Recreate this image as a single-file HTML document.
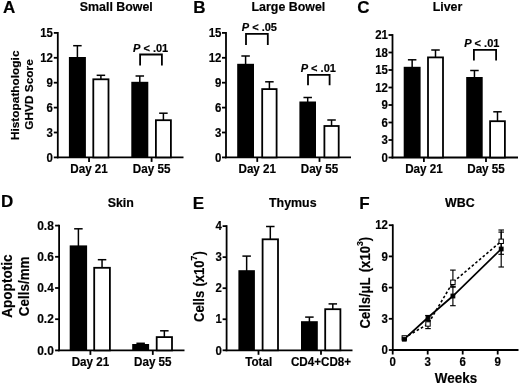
<!DOCTYPE html>
<html><head><meta charset="utf-8"><style>
html,body{margin:0;padding:0;background:#fff;}
svg{display:block;will-change:transform;}
text{font-family:"Liberation Sans",sans-serif;font-weight:bold;fill:#000;stroke:#000;stroke-width:0.18px;}
</style></head><body>
<svg width="520" height="385" viewBox="0 0 520 385" stroke="#000" stroke-linecap="butt">
<rect x="0" y="0" width="520" height="385" fill="#fff" stroke="none"/>
<g stroke="none">
</g>
<text x="9.1" y="13.3" font-size="17" text-anchor="middle">A</text>
<text x="116.3" y="11.0" font-size="12.4" text-anchor="middle">Small Bowel</text>
<line x1="57.8" y1="32" x2="57.8" y2="158.3" stroke-width="1.8"/>
<line x1="56.9" y1="157.4" x2="183.5" y2="157.4" stroke-width="1.8"/>
<line x1="53.8" y1="157.4" x2="57.8" y2="157.4" stroke-width="1.8"/>
<text transform="translate(53,161.6) scale(0.91,1)" font-size="12.6" text-anchor="end">0</text>
<line x1="53.8" y1="132.5" x2="57.8" y2="132.5" stroke-width="1.8"/>
<text transform="translate(53,136.7) scale(0.91,1)" font-size="12.6" text-anchor="end">3</text>
<line x1="53.8" y1="107.6" x2="57.8" y2="107.6" stroke-width="1.8"/>
<text transform="translate(53,111.8) scale(0.91,1)" font-size="12.6" text-anchor="end">6</text>
<line x1="53.8" y1="82.7" x2="57.8" y2="82.7" stroke-width="1.8"/>
<text transform="translate(53,86.9) scale(0.91,1)" font-size="12.6" text-anchor="end">9</text>
<line x1="53.8" y1="57.8" x2="57.8" y2="57.8" stroke-width="1.8"/>
<text transform="translate(53,62) scale(0.91,1)" font-size="12.6" text-anchor="end">12</text>
<line x1="53.8" y1="32.9" x2="57.8" y2="32.9" stroke-width="1.8"/>
<text transform="translate(53,37.1) scale(0.91,1)" font-size="12.6" text-anchor="end">15</text>
<line x1="89.05" y1="157.4" x2="89.05" y2="161.9" stroke-width="1.8"/>
<line x1="151.6" y1="157.4" x2="151.6" y2="161.9" stroke-width="1.8"/>
<line x1="77.4" y1="45.7" x2="77.4" y2="58.0" stroke-width="1.5"/>
<line x1="73.15" y1="45.7" x2="81.65" y2="45.7" stroke-width="1.5"/>
<rect x="68.9" y="57.0" width="17.0" height="100.4" fill="#000" stroke="none"/>
<line x1="100.9" y1="75.3" x2="100.9" y2="79.4" stroke-width="1.5"/>
<line x1="96.65" y1="75.3" x2="105.15" y2="75.3" stroke-width="1.5"/>
<rect x="93.3" y="79.3" width="15.2" height="78.1" fill="#fff" stroke="#000" stroke-width="1.8"/>
<line x1="139.8" y1="76" x2="139.8" y2="82.8" stroke-width="1.5"/>
<line x1="135.55" y1="76" x2="144.05" y2="76" stroke-width="1.5"/>
<rect x="131.3" y="81.8" width="17.0" height="75.6" fill="#000" stroke="none"/>
<line x1="163.4" y1="113.2" x2="163.4" y2="120.3" stroke-width="1.5"/>
<line x1="159.15" y1="113.2" x2="167.65" y2="113.2" stroke-width="1.5"/>
<rect x="155.9" y="120.2" width="15" height="37.2" fill="#fff" stroke="#000" stroke-width="1.8"/>
<polyline points="140.1,65.4 140.1,54.5 161.9,54.5 161.9,65.4" fill="none" stroke-width="1.8"/>
<text x="150.6" y="51.9" font-size="11.0" text-anchor="middle"><tspan font-style="italic">P</tspan> &lt; .01</text>
<text transform="translate(89.05,173) scale(0.94,1)" font-size="12.4" text-anchor="middle">Day 21</text>
<text transform="translate(151.6,173) scale(0.94,1)" font-size="12.4" text-anchor="middle">Day 55</text>
<text transform="translate(18.75,95.3) rotate(-90) scale(1.06,1)" x="0" y="0" font-size="11.2" text-anchor="middle">Histopathologic</text>
<text transform="translate(33.05,94.5) rotate(-90) scale(1.06,1)" x="0" y="0" font-size="11.2" text-anchor="middle">GHVD Score</text>
<text x="199.4" y="13.3" font-size="17" text-anchor="middle">B</text>
<text x="288.4" y="11.0" font-size="12.4" text-anchor="middle">Large Bowel</text>
<line x1="226" y1="32" x2="226" y2="158.3" stroke-width="1.8"/>
<line x1="225.1" y1="157.4" x2="351" y2="157.4" stroke-width="1.8"/>
<line x1="222" y1="157.4" x2="226" y2="157.4" stroke-width="1.8"/>
<text transform="translate(221.5,161.6) scale(0.91,1)" font-size="12.6" text-anchor="end">0</text>
<line x1="222" y1="132.5" x2="226" y2="132.5" stroke-width="1.8"/>
<text transform="translate(221.5,136.7) scale(0.91,1)" font-size="12.6" text-anchor="end">3</text>
<line x1="222" y1="107.6" x2="226" y2="107.6" stroke-width="1.8"/>
<text transform="translate(221.5,111.8) scale(0.91,1)" font-size="12.6" text-anchor="end">6</text>
<line x1="222" y1="82.7" x2="226" y2="82.7" stroke-width="1.8"/>
<text transform="translate(221.5,86.9) scale(0.91,1)" font-size="12.6" text-anchor="end">9</text>
<line x1="222" y1="57.8" x2="226" y2="57.8" stroke-width="1.8"/>
<text transform="translate(221.5,62) scale(0.91,1)" font-size="12.6" text-anchor="end">12</text>
<line x1="222" y1="32.9" x2="226" y2="32.9" stroke-width="1.8"/>
<text transform="translate(221.5,37.1) scale(0.91,1)" font-size="12.6" text-anchor="end">15</text>
<line x1="257.25" y1="157.4" x2="257.25" y2="161.9" stroke-width="1.8"/>
<line x1="319.5" y1="157.4" x2="319.5" y2="161.9" stroke-width="1.8"/>
<line x1="245.6" y1="56" x2="245.6" y2="64.8" stroke-width="1.5"/>
<line x1="241.35" y1="56" x2="249.85" y2="56" stroke-width="1.5"/>
<rect x="237.2" y="63.8" width="16.8" height="93.6" fill="#000" stroke="none"/>
<line x1="269.4" y1="81.8" x2="269.4" y2="89.2" stroke-width="1.5"/>
<line x1="265.15" y1="81.8" x2="273.65" y2="81.8" stroke-width="1.5"/>
<rect x="262.2" y="89.1" width="14.4" height="68.3" fill="#fff" stroke="#000" stroke-width="1.8"/>
<line x1="307.7" y1="97.5" x2="307.7" y2="102.5" stroke-width="1.5"/>
<line x1="303.45" y1="97.5" x2="311.95" y2="97.5" stroke-width="1.5"/>
<rect x="299.4" y="101.5" width="16.6" height="55.9" fill="#000" stroke="none"/>
<line x1="331.55" y1="120" x2="331.55" y2="126.1" stroke-width="1.5"/>
<line x1="327.3" y1="120" x2="335.8" y2="120" stroke-width="1.5"/>
<rect x="324.4" y="126.0" width="14.3" height="31.4" fill="#fff" stroke="#000" stroke-width="1.8"/>
<polyline points="246.0,44.9 246.0,33.8 267.8,33.8 267.8,44.9" fill="none" stroke-width="1.8"/>
<text x="259.4" y="30.9" font-size="11.0" text-anchor="middle"><tspan font-style="italic">P</tspan> &lt; .05</text>
<polyline points="308.0,85.2 308.0,74.8 329.6,74.8 329.6,85.2" fill="none" stroke-width="1.8"/>
<text x="318.3" y="72" font-size="11.0" text-anchor="middle"><tspan font-style="italic">P</tspan> &lt; .01</text>
<text transform="translate(257.25,173) scale(0.94,1)" font-size="12.4" text-anchor="middle">Day 21</text>
<text transform="translate(319.5,173) scale(0.94,1)" font-size="12.4" text-anchor="middle">Day 55</text>
<text x="363.5" y="13.2" font-size="17" text-anchor="middle">C</text>
<text x="447.5" y="11.0" font-size="12.4" text-anchor="middle">Liver</text>
<line x1="392.5" y1="34.1" x2="392.5" y2="158.4" stroke-width="1.8"/>
<line x1="391.6" y1="157.5" x2="518" y2="157.5" stroke-width="1.8"/>
<line x1="388.5" y1="157.5" x2="392.5" y2="157.5" stroke-width="1.8"/>
<text transform="translate(388,161.7) scale(0.91,1)" font-size="12.6" text-anchor="end">0</text>
<line x1="388.5" y1="140.0" x2="392.5" y2="140.0" stroke-width="1.8"/>
<text transform="translate(388,144.2) scale(0.91,1)" font-size="12.6" text-anchor="end">3</text>
<line x1="388.5" y1="122.5" x2="392.5" y2="122.5" stroke-width="1.8"/>
<text transform="translate(388,126.7) scale(0.91,1)" font-size="12.6" text-anchor="end">6</text>
<line x1="388.5" y1="105.0" x2="392.5" y2="105.0" stroke-width="1.8"/>
<text transform="translate(388,109.2) scale(0.91,1)" font-size="12.6" text-anchor="end">9</text>
<line x1="388.5" y1="87.5" x2="392.5" y2="87.5" stroke-width="1.8"/>
<text transform="translate(388,91.7) scale(0.91,1)" font-size="12.6" text-anchor="end">12</text>
<line x1="388.5" y1="70.0" x2="392.5" y2="70.0" stroke-width="1.8"/>
<text transform="translate(388,74.2) scale(0.91,1)" font-size="12.6" text-anchor="end">15</text>
<line x1="388.5" y1="52.5" x2="392.5" y2="52.5" stroke-width="1.8"/>
<text transform="translate(388,56.7) scale(0.91,1)" font-size="12.6" text-anchor="end">18</text>
<line x1="388.5" y1="35.0" x2="392.5" y2="35.0" stroke-width="1.8"/>
<text transform="translate(388,39.2) scale(0.91,1)" font-size="12.6" text-anchor="end">21</text>
<line x1="423.9" y1="157.5" x2="423.9" y2="162.0" stroke-width="1.8"/>
<line x1="486" y1="157.5" x2="486" y2="162.0" stroke-width="1.8"/>
<line x1="412.15" y1="59.8" x2="412.15" y2="67.8" stroke-width="1.5"/>
<line x1="407.9" y1="59.8" x2="416.4" y2="59.8" stroke-width="1.5"/>
<rect x="403.7" y="66.8" width="16.9" height="90.7" fill="#000" stroke="none"/>
<line x1="435.5" y1="50" x2="435.5" y2="57.5" stroke-width="1.5"/>
<line x1="431.25" y1="50" x2="439.75" y2="50" stroke-width="1.5"/>
<rect x="428.0" y="57.4" width="15" height="100.1" fill="#fff" stroke="#000" stroke-width="1.8"/>
<line x1="474.45" y1="70.5" x2="474.45" y2="78" stroke-width="1.5"/>
<line x1="470.2" y1="70.5" x2="478.7" y2="70.5" stroke-width="1.5"/>
<rect x="466.2" y="77" width="16.5" height="80.5" fill="#000" stroke="none"/>
<line x1="497.5" y1="111.8" x2="497.5" y2="121.3" stroke-width="1.5"/>
<line x1="493.25" y1="111.8" x2="501.75" y2="111.8" stroke-width="1.5"/>
<rect x="490.1" y="121.2" width="14.8" height="36.3" fill="#fff" stroke="#000" stroke-width="1.8"/>
<polyline points="473.9,60.6 473.9,49.9 496.1,49.9 496.1,60.6" fill="none" stroke-width="1.8"/>
<text x="481.8" y="47.1" font-size="11.0" text-anchor="middle"><tspan font-style="italic">P</tspan> &lt; .01</text>
<text transform="translate(423.9,173) scale(0.94,1)" font-size="12.4" text-anchor="middle">Day 21</text>
<text transform="translate(486,173) scale(0.94,1)" font-size="12.4" text-anchor="middle">Day 55</text>
<text x="7.1" y="207.4" font-size="17" text-anchor="middle">D</text>
<text x="120.8" y="206.8" font-size="12.4" text-anchor="middle">Skin</text>
<line x1="59.1" y1="224.7" x2="59.1" y2="351.3" stroke-width="1.8"/>
<line x1="58.2" y1="350.4" x2="184.5" y2="350.4" stroke-width="1.8"/>
<line x1="55.1" y1="350.4" x2="59.1" y2="350.4" stroke-width="1.8"/>
<text transform="translate(53.8,354.6) scale(0.95,1)" font-size="12.6" text-anchor="end">0.0</text>
<line x1="55.1" y1="319.2" x2="59.1" y2="319.2" stroke-width="1.8"/>
<text transform="translate(53.8,323.4) scale(0.95,1)" font-size="12.6" text-anchor="end">0.2</text>
<line x1="55.1" y1="288.0" x2="59.1" y2="288.0" stroke-width="1.8"/>
<text transform="translate(53.8,292.2) scale(0.95,1)" font-size="12.6" text-anchor="end">0.4</text>
<line x1="55.1" y1="256.8" x2="59.1" y2="256.8" stroke-width="1.8"/>
<text transform="translate(53.8,261) scale(0.95,1)" font-size="12.6" text-anchor="end">0.6</text>
<line x1="55.1" y1="225.6" x2="59.1" y2="225.6" stroke-width="1.8"/>
<text transform="translate(53.8,229.8) scale(0.95,1)" font-size="12.6" text-anchor="end">0.8</text>
<line x1="90.4" y1="350.4" x2="90.4" y2="354.9" stroke-width="1.8"/>
<line x1="152.8" y1="350.4" x2="152.8" y2="354.9" stroke-width="1.8"/>
<line x1="78.4" y1="228.8" x2="78.4" y2="246.4" stroke-width="1.5"/>
<line x1="74.15" y1="228.8" x2="82.65" y2="228.8" stroke-width="1.5"/>
<rect x="69.7" y="245.4" width="17.4" height="105" fill="#000" stroke="none"/>
<line x1="102.05" y1="259.7" x2="102.05" y2="267.9" stroke-width="1.5"/>
<line x1="97.8" y1="259.7" x2="106.3" y2="259.7" stroke-width="1.5"/>
<rect x="94.2" y="267.8" width="15.7" height="82.6" fill="#fff" stroke="#000" stroke-width="1.8"/>
<line x1="140.65" y1="343.3" x2="140.65" y2="345" stroke-width="1.5"/>
<line x1="136.4" y1="343.3" x2="144.9" y2="343.3" stroke-width="1.5"/>
<rect x="132.2" y="344" width="16.9" height="6.4" fill="#000" stroke="none"/>
<line x1="164.35" y1="330.8" x2="164.35" y2="337.2" stroke-width="1.5"/>
<line x1="160.1" y1="330.8" x2="168.6" y2="330.8" stroke-width="1.5"/>
<rect x="156.7" y="337.1" width="15.3" height="13.3" fill="#fff" stroke="#000" stroke-width="1.8"/>
<text transform="translate(90.4,365.7) scale(0.94,1)" font-size="12.4" text-anchor="middle">Day 21</text>
<text transform="translate(152.8,365.7) scale(0.94,1)" font-size="12.4" text-anchor="middle">Day 55</text>
<text transform="translate(12.3,286.1) rotate(-90) scale(0.95,1)" x="0" y="0" font-size="14.3" text-anchor="middle">Apoptotic</text>
<text transform="translate(28.7,286.3) rotate(-90) scale(0.94,1)" x="0" y="0" font-size="14.3" text-anchor="middle">Cells/mm</text>
<text x="198.5" y="209.2" font-size="17" text-anchor="middle">E</text>
<text x="292.8" y="206.6" font-size="12.4" text-anchor="middle">Thymus</text>
<line x1="226.6" y1="225.2" x2="226.6" y2="351.2" stroke-width="1.8"/>
<line x1="225.7" y1="350.3" x2="352.5" y2="350.3" stroke-width="1.8"/>
<line x1="222.6" y1="350.3" x2="226.6" y2="350.3" stroke-width="1.8"/>
<text transform="translate(222,354.5) scale(0.91,1)" font-size="12.6" text-anchor="end">0</text>
<line x1="222.6" y1="319.25" x2="226.6" y2="319.25" stroke-width="1.8"/>
<text transform="translate(222,323.45) scale(0.91,1)" font-size="12.6" text-anchor="end">1</text>
<line x1="222.6" y1="288.2" x2="226.6" y2="288.2" stroke-width="1.8"/>
<text transform="translate(222,292.4) scale(0.91,1)" font-size="12.6" text-anchor="end">2</text>
<line x1="222.6" y1="257.15" x2="226.6" y2="257.15" stroke-width="1.8"/>
<text transform="translate(222,261.35) scale(0.91,1)" font-size="12.6" text-anchor="end">3</text>
<line x1="222.6" y1="226.1" x2="226.6" y2="226.1" stroke-width="1.8"/>
<text transform="translate(222,230.3) scale(0.91,1)" font-size="12.6" text-anchor="end">4</text>
<line x1="258.5" y1="350.3" x2="258.5" y2="354.8" stroke-width="1.8"/>
<line x1="321" y1="350.3" x2="321" y2="354.8" stroke-width="1.8"/>
<line x1="246.65" y1="256.1" x2="246.65" y2="271.2" stroke-width="1.5"/>
<line x1="242.4" y1="256.1" x2="250.9" y2="256.1" stroke-width="1.5"/>
<rect x="238.4" y="270.2" width="16.5" height="80.1" fill="#000" stroke="none"/>
<line x1="270.3" y1="226.5" x2="270.3" y2="239.4" stroke-width="1.5"/>
<line x1="266.05" y1="226.5" x2="274.55" y2="226.5" stroke-width="1.5"/>
<rect x="262.6" y="239.3" width="15.4" height="111.0" fill="#fff" stroke="#000" stroke-width="1.8"/>
<line x1="309.4" y1="317.1" x2="309.4" y2="322.2" stroke-width="1.5"/>
<line x1="305.15" y1="317.1" x2="313.65" y2="317.1" stroke-width="1.5"/>
<rect x="301" y="321.2" width="16.8" height="29.1" fill="#000" stroke="none"/>
<line x1="332.8" y1="303.9" x2="332.8" y2="309.3" stroke-width="1.5"/>
<line x1="328.55" y1="303.9" x2="337.05" y2="303.9" stroke-width="1.5"/>
<rect x="325.2" y="309.2" width="15.2" height="41.1" fill="#fff" stroke="#000" stroke-width="1.8"/>
<text transform="translate(258.7,365.6) scale(0.94,1)" font-size="12.4" text-anchor="middle">Total</text>
<text transform="translate(321,365.6) scale(0.94,1)" font-size="12.4" text-anchor="middle">CD4+CD8+</text>
<text transform="translate(204.0,286.6) rotate(-90) scale(0.91,1)" font-size="14.4" text-anchor="middle">Cells <tspan dx="0.5">(x10</tspan><tspan font-size="9.6" dy="-6.8">7</tspan><tspan dy="6.8">)</tspan></text>
<text x="364.5" y="209" font-size="17" text-anchor="middle">F</text>
<text x="459.8" y="206.9" font-size="12.4" text-anchor="middle">WBC</text>
<line x1="392.8" y1="224.3" x2="392.8" y2="350.9" stroke-width="1.8"/>
<line x1="391.9" y1="350" x2="518.5" y2="350" stroke-width="1.8"/>
<line x1="388.8" y1="350.0" x2="392.8" y2="350.0" stroke-width="1.8"/>
<text transform="translate(388,354.2) scale(0.91,1)" font-size="12.6" text-anchor="end">0</text>
<line x1="388.8" y1="318.8" x2="392.8" y2="318.8" stroke-width="1.8"/>
<text transform="translate(388,323.0) scale(0.91,1)" font-size="12.6" text-anchor="end">3</text>
<line x1="388.8" y1="287.6" x2="392.8" y2="287.6" stroke-width="1.8"/>
<text transform="translate(388,291.8) scale(0.91,1)" font-size="12.6" text-anchor="end">6</text>
<line x1="388.8" y1="256.4" x2="392.8" y2="256.4" stroke-width="1.8"/>
<text transform="translate(388,260.6) scale(0.91,1)" font-size="12.6" text-anchor="end">9</text>
<line x1="388.8" y1="225.2" x2="392.8" y2="225.2" stroke-width="1.8"/>
<text transform="translate(388,229.4) scale(0.91,1)" font-size="12.6" text-anchor="end">12</text>
<line x1="392.7" y1="350" x2="392.7" y2="354.5" stroke-width="1.8"/>
<line x1="427.7" y1="350" x2="427.7" y2="354.5" stroke-width="1.8"/>
<line x1="462.7" y1="350" x2="462.7" y2="354.5" stroke-width="1.8"/>
<line x1="497.7" y1="350" x2="497.7" y2="354.5" stroke-width="1.8"/>
<text transform="translate(392.7,366) scale(0.91,1)" font-size="12.6" text-anchor="middle">0</text>
<text transform="translate(427.7,366) scale(0.91,1)" font-size="12.6" text-anchor="middle">3</text>
<text transform="translate(462.7,366) scale(0.91,1)" font-size="12.6" text-anchor="middle">6</text>
<text transform="translate(497.7,366) scale(0.91,1)" font-size="12.6" text-anchor="middle">9</text>
<text transform="translate(456,382.6) scale(0.92,1)" font-size="14.6" text-anchor="middle">Weeks</text>
<text transform="translate(370.0,282.6) rotate(-90) scale(0.91,1)" font-size="14.4" text-anchor="middle">Cells/μL <tspan dx="2">(x10</tspan><tspan font-size="9.6" dy="-6.8">3</tspan><tspan dy="6.8">)</tspan></text>
<line x1="428.0" y1="315.5" x2="428.0" y2="320.5" stroke-width="1.15"/>
<line x1="425.2" y1="315.5" x2="430.8" y2="315.5" stroke-width="1.15"/>
<line x1="425.2" y1="320.5" x2="430.8" y2="320.5" stroke-width="1.15"/>
<line x1="452.9" y1="286.3" x2="452.9" y2="305.7" stroke-width="1.15"/>
<line x1="450.1" y1="286.3" x2="455.7" y2="286.3" stroke-width="1.15"/>
<line x1="450.1" y1="305.7" x2="455.7" y2="305.7" stroke-width="1.15"/>
<line x1="501.2" y1="232.1" x2="501.2" y2="267" stroke-width="1.15"/>
<line x1="498.4" y1="232.1" x2="504.0" y2="232.1" stroke-width="1.15"/>
<line x1="498.4" y1="267" x2="504.0" y2="267" stroke-width="1.15"/>
<line x1="428.0" y1="321" x2="428.0" y2="328.6" stroke-width="1.15"/>
<line x1="425.2" y1="321" x2="430.8" y2="321" stroke-width="1.15"/>
<line x1="425.2" y1="328.6" x2="430.8" y2="328.6" stroke-width="1.15"/>
<line x1="452.9" y1="270.1" x2="452.9" y2="287.2" stroke-width="1.15"/>
<line x1="450.1" y1="270.1" x2="455.7" y2="270.1" stroke-width="1.15"/>
<line x1="450.1" y1="287.2" x2="455.7" y2="287.2" stroke-width="1.15"/>
<line x1="501.2" y1="230" x2="501.2" y2="254.3" stroke-width="1.15"/>
<line x1="498.4" y1="230" x2="504.0" y2="230" stroke-width="1.15"/>
<line x1="498.4" y1="254.3" x2="504.0" y2="254.3" stroke-width="1.15"/>
<polyline points="404.3,339.2 428.0,317.5 452.9,296.0 501.2,249" fill="none" stroke-width="1.7"/>
<polyline points="404.3,337.9 428.0,324.0 452.9,282.3 501.2,241.3" fill="none" stroke-width="1.6" stroke-dasharray="2.6,2.2"/>
<rect x="402.1" y="335.7" width="4.4" height="4.4" fill="#fff" stroke="#000" stroke-width="1.0"/>
<rect x="425.8" y="321.8" width="4.4" height="4.4" fill="#fff" stroke="#000" stroke-width="1.0"/>
<rect x="450.7" y="280.1" width="4.4" height="4.4" fill="#fff" stroke="#000" stroke-width="1.0"/>
<rect x="499.0" y="239.1" width="4.4" height="4.4" fill="#fff" stroke="#000" stroke-width="1.0"/>
<rect x="402.4" y="337.3" width="3.8" height="3.8" fill="#000"/>
<rect x="426.1" y="315.6" width="3.8" height="3.8" fill="#000"/>
<rect x="451.0" y="294.1" width="3.8" height="3.8" fill="#000"/>
<rect x="499.3" y="247.1" width="3.8" height="3.8" fill="#000"/>
</svg>
</body></html>
